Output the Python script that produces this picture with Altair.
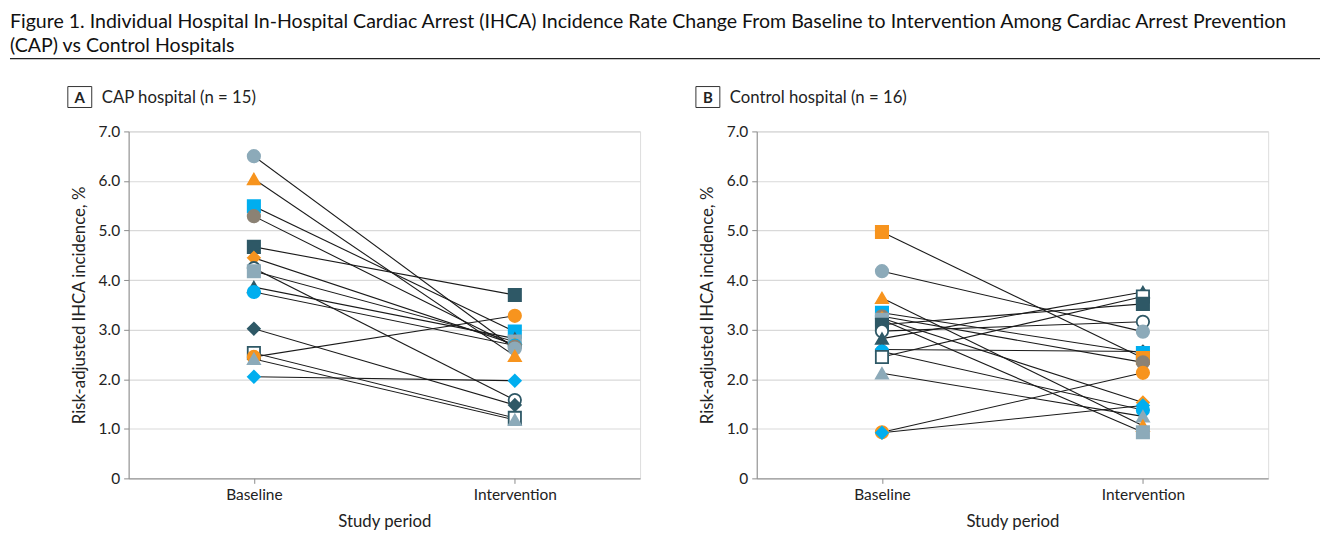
import altair as alt
import pandas as pd

periods = ["Baseline", "Intervention"]

# Panel A: CAP hospitals (n = 15)
a_tone = ["gray", "orange", "blue", "brown", "teal", "orange", "gray", "open",
          "teal", "blue", "teal", "open", "orange", "gray", "blue"]
a_shape = ["circle", "triangle-up", "square", "circle", "square", "diamond", "square", "circle",
           "triangle-up", "circle", "diamond", "square", "circle", "triangle-up", "diamond"]
a_base = [6.50, 6.04, 5.49, 5.29, 4.67, 4.45, 4.18, 4.24, 3.86, 3.76, 3.02, 2.53, 2.45, 2.41, 2.05]
a_int = [2.62, 2.47, 2.96, 2.66, 3.70, 2.70, 2.76, 1.58, 2.82, 2.68, 1.48, 1.22, 3.28, 1.18, 1.97]

# Panel B: Control hospitals (n = 16)
b_tone = ["orange", "gray", "orange", "blue", "brown", "orange", "gray", "teal",
          "open", "teal", "teal", "blue", "open", "gray", "orange", "blue"]
b_shape = ["square", "circle", "triangle-up", "square", "circle", "diamond", "square", "square",
           "circle", "triangle-up", "diamond", "circle", "square", "triangle-up", "circle", "diamond"]
b_base = [4.97, 4.18, 3.64, 3.34, 3.27, 3.23, 3.20, 3.10, 2.97, 2.82, 2.60, 2.56, 2.45, 2.12, 0.93, 0.92]
b_int = [2.43, 2.96, 1.06, 2.53, 2.34, 1.53, 0.93, 3.52, 3.16, 3.76, 2.56, 1.38, 3.67, 1.25, 2.13, 1.47]

tones = ["gray", "orange", "blue", "brown", "teal", "open"]
fills = ["#8CAAB9", "#F7941E", "#00AEEF", "#8B8274", "#2E5866", "#FFFFFF"]
strokes = ["#8CAAB9", "#F7941E", "#00AEEF", "#8B8274", "#2E5866", "#2E5866"]
shapes = ["circle", "square", "triangle-up", "diamond"]
shape_sizes = [155, 145, 155, 195]

title_lines = [
    "Figure 1. Individual Hospital In-Hospital Cardiac Arrest (IHCA) Incidence Rate Change From Baseline to Intervention Among Cardiac Arrest Prevention",
    "(CAP) vs Control Hospitals",
]

FONT = "Lato"
W, H = 513, 348


def make_df(tone, shape, base, inter):
    rows = []
    for i in range(len(base)):
        for p, v in zip(periods, (base[i], inter[i])):
            rows.append({"hospital": i, "tone": tone[i], "shape": shape[i], "period": p, "rate": v})
    return pd.DataFrame(rows)


def panel(df, letter, label, header=False):
    x = alt.X("period:N", scale=alt.Scale(domain=periods, padding=0.48),
              axis=alt.Axis(title="Study period", labelAngle=0, domainColor="#8c8c8c",
                            tickColor="#8c8c8c", tickSize=5, labelFontSize=15.5,
                            titleFontSize=16.8, titleFontWeight="normal", labelPadding=4,
                            titlePadding=11, labelColor="#222", titleColor="#222",
                            labelFont=FONT, titleFont=FONT, grid=False))
    y = alt.Y("rate:Q", scale=alt.Scale(domain=[0, 7], nice=False),
              axis=alt.Axis(title="Risk-adjusted IHCA incidence, %", values=[0, 1, 2, 3, 4, 5, 6, 7],
                            labelExpr="datum.value == 0 ? '0' : format(datum.value, '.1f')",
                            domainColor="#8c8c8c", tickColor="#8c8c8c", tickSize=5,
                            labelFontSize=15.5, titleFontSize=16.8, titleFontWeight="normal",
                            labelPadding=4, titlePadding=10, labelColor="#222", titleColor="#222",
                            labelFont=FONT, titleFont=FONT, gridColor="#d9d9d9", gridWidth=1.2))
    base = alt.Chart(df)
    lines = base.mark_line(color="#1a1a1a", strokeWidth=1.1).encode(x=x, y=y, detail="hospital:N")
    pts = base.mark_point(filled=True, opacity=1, strokeWidth=1.8).encode(
        x=x, y=y,
        shape=alt.Shape("shape:N", scale=alt.Scale(domain=shapes, range=shapes), legend=None),
        size=alt.Size("shape:N", scale=alt.Scale(domain=shapes, range=shape_sizes), legend=None),
        fill=alt.Fill("tone:N", scale=alt.Scale(domain=tones, range=fills), legend=None),
        stroke=alt.Stroke("tone:N", scale=alt.Scale(domain=tones, range=strokes), legend=None),
        order=alt.Order("rate:Q", sort="descending"),
    )
    one = alt.Chart(pd.DataFrame({"k": [0]}))
    box = one.mark_rect(fill="white", stroke="#333", strokeWidth=1).encode(
        x=alt.value(-61), x2=alt.value(-37), y=alt.value(-45), y2=alt.value(-24))
    ltr = one.mark_text(text=letter, font=FONT, fontSize=15, fontWeight="bold", color="#222",
                        align="center", baseline="middle").encode(x=alt.value(-49), y=alt.value(-34))
    lab = one.mark_text(text=label, font=FONT, fontSize=16.8, color="#222",
                        align="left", baseline="middle").encode(x=alt.value(-27), y=alt.value(-34))
    layers = [lines, pts, box, ltr, lab]
    if header:
        t1 = one.mark_text(text=title_lines[0], font=FONT, fontSize=19.6, color="#111",
                           align="left", baseline="middle").encode(x=alt.value(-119), y=alt.value(-110))
        t2 = one.mark_text(text=title_lines[1], font=FONT, fontSize=19.6, color="#111",
                           align="left", baseline="middle").encode(x=alt.value(-119), y=alt.value(-86))
        rule = one.mark_rule(color="#222", strokeWidth=1.2).encode(
            x=alt.value(-119), x2=alt.value(1195), y=alt.value(-73))
        layers += [t1, t2, rule]
    return alt.layer(*layers).properties(width=W, height=H)


dfa = make_df(a_tone, a_shape, a_base, a_int)
dfb = make_df(b_tone, b_shape, b_base, b_int)

chart = alt.hconcat(
    panel(dfa, "A", "CAP hospital (n = 15)", header=True),
    panel(dfb, "B", "Control hospital (n = 16)"),
    spacing=117, bounds="flush",
).properties(
    padding={"top": 2, "left": 0, "right": 0, "bottom": 0}
).configure_view(stroke=None).configure(background="white")

chart.save("out.html", embed_options={"renderer": "svg", "actions": False})
